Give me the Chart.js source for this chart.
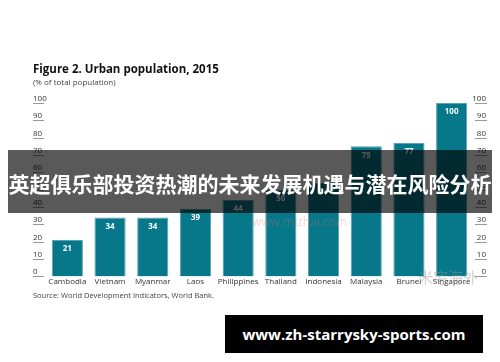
<!DOCTYPE html>
<html>
<head>
<meta charset="utf-8">
<script src="https://cdn.jsdelivr.net/npm/chart.js@4"></script>
<style>
  body { margin: 0; background: #fff; }
  #wrap { position: relative; width: 500px; height: 362px; overflow: hidden; }
  #chart { position: absolute; left: 0; top: 0; }
  .txt { position: absolute; font-family: "Open Sans", sans-serif; color: #222; white-space: nowrap; }
  #banner { position: absolute; left: 8px; top: 150px; width: 484px; height: 63px; background: rgba(0,0,0,0.65);
            color: #fff; font-family: "Noto Sans CJK SC", sans-serif; font-weight: bold; font-size: 21px;
            line-height: 66px; text-align: center; white-space: nowrap; letter-spacing: 0px; overflow: visible; }
  #url { position: absolute; left: 225px; top: 315px; width: 258px; height: 38px; background: #000; color: #fff;
         font-family: "Open Sans", sans-serif; font-weight: bold; font-size: 15px; line-height: 38px; text-align: center; }
</style>
</head>
<body>
<div id="wrap">
  <canvas id="chart" width="500" height="362"></canvas>
  <div class="txt" style="left:33px;top:61px;font-size:11.5px;font-weight:bold;color:#111">Figure 2. Urban population, 2015</div>
  <div class="txt" style="left:33px;top:76px;font-size:8px;color:#444">(% of total population)</div>
  <div class="txt" style="left:33px;top:290px;font-size:7.5px;color:#444">Source: World Development Indicators, World Bank.</div>
  <div class="txt" style="left:252px;top:213px;font-size:12px;color:rgba(225,110,110,0.3)">www.mizhai.com</div>
  <div class="txt" style="left:418px;top:266px;font-size:15px;color:rgba(150,150,150,0.45);font-family:'Noto Sans CJK SC'">米宅海外</div>
  <div id="banner">英超俱乐部投资热潮的未来发展机遇与潜在风险分析</div>
  <div id="url">www.zh-starrysky-sports.com</div>
</div>
<script>
var countries = ["Cambodia","Vietnam","Myanmar","Laos","Philippines","Thailand","Indonesia","Malaysia","Brunei","Singapore"];
var urbanShare = [21, 34, 34, 39, 44, 50, 54, 75, 77, 100];
var yTicks = [0, 10, 20, 30, 40, 50, 60, 70, 80, 90, 100];

// tick labels on both sides, with a short line under each
var sideTicks = {
  id: "sideTicks",
  afterDraw: function(chart) {
    var ctx = chart.ctx, y = chart.scales.y;
    ctx.save();
    ctx.font = "8px 'Open Sans'";
    ctx.fillStyle = "#333";
    ctx.strokeStyle = "#999";
    ctx.lineWidth = 1;
    ctx.textBaseline = "alphabetic";
    yTicks.forEach(function(v) {
      var py = Math.round(y.getPixelForValue(v)) + 0.5;
      ctx.beginPath();
      ctx.moveTo(33, py); ctx.lineTo(44, py);
      ctx.moveTo(475, py); ctx.lineTo(487, py);
      ctx.stroke();
      ctx.textAlign = "left";
      ctx.fillText(String(v), 33, py - 3);
      ctx.textAlign = "right";
      ctx.fillText(String(v), 486, py - 3);
    });
    ctx.restore();
  }
};

// value labels inside bar tops
var barValues = {
  id: "barValues",
  afterDatasetsDraw: function(chart) {
    var ctx = chart.ctx;
    var meta = chart.getDatasetMeta(0);
    ctx.save();
    ctx.font = "bold 8px 'Open Sans'";
    ctx.fillStyle = "#fff";
    ctx.textAlign = "center";
    ctx.textBaseline = "middle";
    meta.data.forEach(function(bar, i) {
      ctx.fillText(String(urbanShare[i]), bar.x, bar.y + 9);
    });
    ctx.restore();
  }
};

var canvas = document.getElementById("chart");
var config = {
  type: "bar",
  data: {
    labels: countries,
    datasets: [{
      label: "Urban population",
      data: urbanShare,
      backgroundColor: "#07788a",
      borderColor: "#5aa3b0",
      borderWidth: 1,
      categoryPercentage: 0.73,
      barPercentage: 1
    }]
  },
  options: {
    responsive: false,
    animation: false,
    layout: { padding: { left: 46, right: 27, top: 103, bottom: 74 } },
    plugins: { legend: { display: false }, tooltip: { enabled: false } },
    scales: {
      x: {
        grid: { display: false, drawTicks: false },
        border: { display: false },
        ticks: { color: "#333", font: { family: "'Open Sans'", size: 8 }, padding: 1, maxRotation: 0, autoSkip: false }
      },
      y: {
        display: false,
        min: 0,
        max: 100
      }
    }
  },
  plugins: [sideTicks, barValues]
};
var barchart = new Chart(canvas, config);
</script>
</body>
</html>
